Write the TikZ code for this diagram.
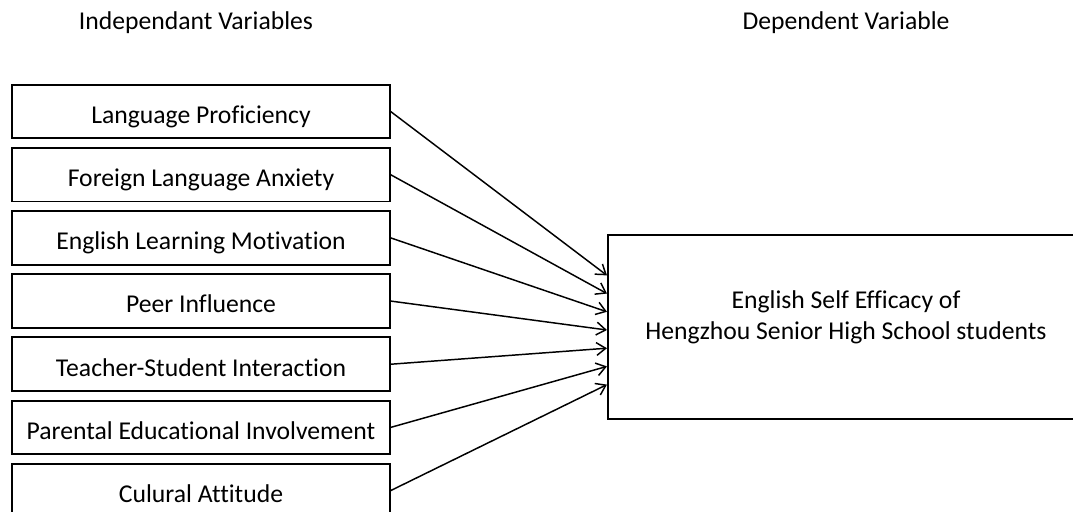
\documentclass[tikz,border=0pt]{standalone}
\usepackage{fontspec}
\setmainfont{Carlito}[RawFeature=-liga]
\usetikzlibrary{arrows.meta,positioning}
\newcommand{\vfont}{\fontsize{18.25}{22.5}\selectfont}
\tikzset{
  >={Straight Barb[length=2.3mm,width=3.2mm]},
  vbox/.style={draw=black, line width=1.4pt, minimum width=9.43cm,
               minimum height=1.34cm, inner sep=0pt, font=\vfont,
               text height=0.59cm, text depth=0cm},
  dvbox/.style={draw=black, line width=1.4pt, minimum width=11.9cm,
                minimum height=4.6cm, align=center, font=\vfont,
                text depth=0.6cm},
  vttl/.style={font=\vfont},
  varr/.style={->, line width=1.05pt},
}

\begin{document}
\begin{tikzpicture}[x=0.025cm, y=-0.025cm, node distance=0.19cm]

  \useasboundingbox (0,0) rectangle (1073,512);

  % titulos
  \node[vttl] (indttl) at (196,23) {Independant Variables};
  \node[vttl] (depttl) at (846,23) {Dependent Variable};

  % variaveis independentes
  \node[vbox] (lp) at (201,111.5) {Language Proficiency};
  \node[vbox, below=of lp]  (fla) {Foreign Language Anxiety};
  \node[vbox, below=of fla] (elm) {English Learning Motivation};
  \node[vbox, below=of elm] (pi)  {Peer Influence};
  \node[vbox, below=of pi]  (tsi) {Teacher-Student Interaction};
  \node[vbox, below=of tsi] (pei) {Parental Educational Involvement};
  \node[vbox, below=of pei] (ca)  {Culural Attitude};

  % variavel dependente
  \node[dvbox] (ese) at (846,327)
    {English Self Efficacy of\\Hengzhou Senior High School students};

  % setas
  \foreach \v/\s in {lp/1.29, fla/0.835, elm/0.38, pi/-0.075,
                     tsi/-0.53, pei/-0.985, ca/-1.44}
    \draw[varr] (\v.east) -- ([yshift=\s cm]ese.west);

\end{tikzpicture}
\end{document}
